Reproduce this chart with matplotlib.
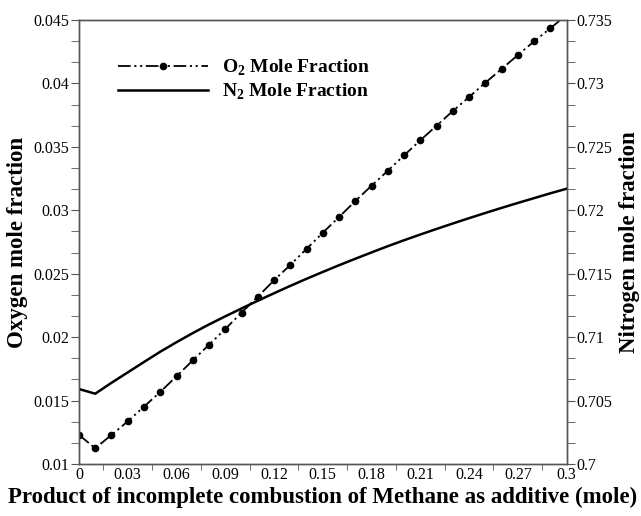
import numpy as np
import matplotlib
matplotlib.use("Agg")
import matplotlib.pyplot as plt
from matplotlib.ticker import AutoMinorLocator

plt.rcParams['font.family'] = 'Liberation Serif'
plt.rcParams['mathtext.fontset'] = 'custom'
plt.rcParams['mathtext.rm'] = 'Liberation Serif'
plt.rcParams['mathtext.bf'] = 'Liberation Serif:bold'

# Methane product added (mole)
metano = np.round(np.arange(0, 0.301, 0.01), 2)

# Fraccion molar de O2
o2 = [0.01229, 0.01124, 0.01229, 0.01336, 0.01452, 0.01568, 0.01691, 0.01817,
      0.01940, 0.02064, 0.02193, 0.02319, 0.02448, 0.02569, 0.02696, 0.02823,
      0.02947, 0.03073, 0.03194, 0.03312, 0.03433, 0.03552, 0.03667, 0.03783,
      0.03893, 0.04006, 0.04114, 0.04224, 0.04332, 0.04435, 0.04540]

# Fraccion molar de N2
n2 = [0.70591, 0.70554, 0.70640, 0.70722, 0.70804, 0.70885, 0.70960, 0.71032,
      0.71100, 0.71164, 0.71226, 0.71287, 0.71346, 0.71404, 0.71460, 0.71514,
      0.71567, 0.71618, 0.71668, 0.71717, 0.71764, 0.71809, 0.71853, 0.71896,
      0.71938, 0.71979, 0.72019, 0.72058, 0.72096, 0.72134, 0.72170]

x_ticks = [0, 0.03, 0.06, 0.09, 0.12, 0.15, 0.18, 0.21, 0.24, 0.27, 0.3]
x_labels = ['0', '0.03', '0.06', '0.09', '0.12', '0.15', '0.18', '0.21', '0.24', '0.27', '0.3']
yl_ticks = [0.01, 0.015, 0.02, 0.025, 0.03, 0.035, 0.04, 0.045]
yl_labels = ['0.01', '0.015', '0.02', '0.025', '0.03', '0.035', '0.04', '0.045']
yr_ticks = [0.7, 0.705, 0.71, 0.715, 0.72, 0.725, 0.73, 0.735]
yr_labels = ['0.7', '0.705', '0.71', '0.715', '0.72', '0.725', '0.73', '0.735']

fig = plt.figure(figsize=(6.41, 5.16), dpi=100)
ax = fig.add_axes([0.1232, 0.1008, 0.7608, 0.8604])
ax2 = ax.twinx()

l1, = ax.plot(metano, o2, color='black', lw=1.3, dashes=(7, 2, 1.2, 2, 1.2, 2),
              marker='o', ms=4.5, markevery=slice(0, 30), label=r'O$_\mathbf{2}$ Mole Fraction')
l2, = ax2.plot(metano, n2, color='black', lw=1.8, label=r'N$_\mathbf{2}$ Mole Fraction')

ax.set_xlim(0, 0.3)
ax.set_ylim(0.01, 0.045)
ax2.set_ylim(0.7, 0.735)

ax.set_xticks(x_ticks)
ax.set_xticklabels(x_labels)
ax.set_yticks(yl_ticks)
ax.set_yticklabels(yl_labels)
ax2.set_yticks(yr_ticks)
ax2.set_yticklabels(yr_labels)
ax.xaxis.set_minor_locator(AutoMinorLocator(2))
ax.yaxis.set_minor_locator(AutoMinorLocator(3))
ax2.yaxis.set_minor_locator(AutoMinorLocator(3))

ax.tick_params(axis='x', which='major', length=0, pad=2, labelsize=11.5)
ax.tick_params(axis='x', which='minor', length=4, direction='out', color='#555555')
ax.tick_params(axis='y', which='both', length=6, direction='out', color='#555555', labelsize=11.5, pad=1)
ax2.tick_params(axis='y', which='both', length=6, direction='out', color='#555555', labelsize=11.5, pad=1)

for a in (ax, ax2):
    for s in a.spines.values():
        s.set_color('#555555')
        s.set_linewidth(1.0)

ax.set_xlabel('Product of incomplete combustion of Methane as additive (mole)',
              fontsize=16.5, fontweight='bold', labelpad=3)
ax.set_ylabel('Oxygen mole fraction', fontsize=16.5, fontweight='bold', labelpad=4)
ax2.set_ylabel('Nitrogen mole fraction', fontsize=16.5, fontweight='bold', rotation=90, labelpad=5)

leg = ax.legend(handles=[l1, l2], loc='upper left', bbox_to_anchor=(0.045, 0.955),
                frameon=False, prop={'weight': 'bold', 'size': 14},
                handlelength=4.6, handletextpad=0.75, labelspacing=0.2)

fig.savefig('out.png', dpi=100)
